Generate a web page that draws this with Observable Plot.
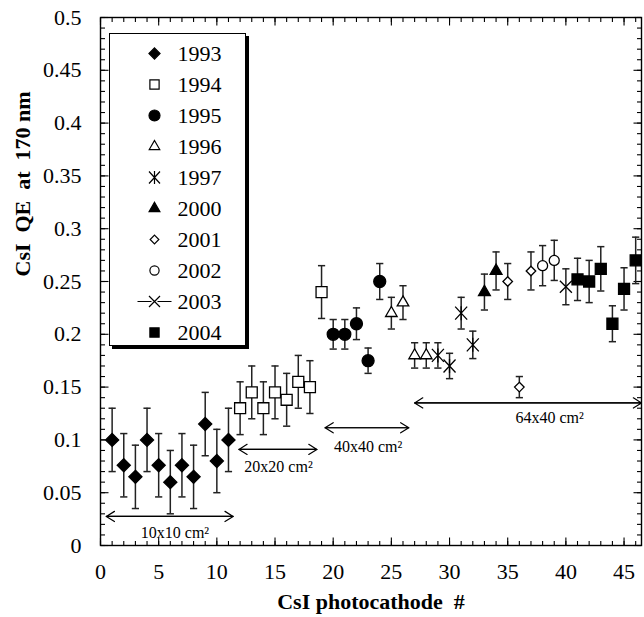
<!DOCTYPE html>
<html>
<head>
<meta charset="utf-8">
<script src="https://cdn.jsdelivr.net/npm/d3@7"></script>
<script src="https://cdn.jsdelivr.net/npm/@observablehq/plot@0.6"></script>
<style>
  body { margin: 0; background: #fff; }
  #wrap { position: relative; width: 644px; height: 617px; font-family: "Liberation Serif", "Times New Roman", serif; }
  #legend { position: absolute; left: 109px; top: 33px; width: 135px; height: 311px; border: 1.3px solid #000; box-shadow: 3px 3px 0 #000; background: #fff; }
  svg { font-family: "Liberation Serif", "Times New Roman", serif; }
</style>
</head>
<body>
<div id="wrap"><div id="chart"></div><div id="legend"></div></div>
<script>
// ---------------- data ----------------
const years = ["1993","1994","1995","1996","1997","2000","2001","2002","2003","2004"];
const cathodeIds = [1,2,3,4,5,6,7,8,9,10,11,12,13,14,15,16,17,18,19,20,21,22,23,24,25,26,27,28,29,30,31,32,33,34,35,36,37,38,39,40,41,42,43,44,45,46];
const cathodeYear = [
  "1993","1993","1993","1993","1993","1993","1993","1993","1993","1993","1993",
  "1994","1994","1994","1994","1994","1994","1994","1994",
  "1995","1995","1995","1995","1995",
  "1996","1996","1996","1996",
  "1997","1997","1997","1997",
  "2000","2000",
  "2001","2001","2001",
  "2002","2002",
  "2003",
  "2004","2004","2004","2004","2004","2004"];
const qeValues = [
  0.100,0.076,0.065,0.100,0.076,0.060,0.076,0.065,0.115,0.080,0.100,
  0.130,0.145,0.130,0.145,0.138,0.155,0.150,0.240,
  0.200,0.200,0.210,0.175,0.250,
  0.220,0.230,0.180,0.180,
  0.180,0.170,0.220,0.190,
  0.240,0.260,
  0.250,0.150,0.260,
  0.265,0.270,
  0.245,
  0.252,0.250,0.262,0.210,0.243,0.270];
const qeErrors = [
  0.030,0.030,0.030,0.030,0.030,0.030,0.030,0.030,0.030,0.030,0.030,
  0.025,0.025,0.025,0.025,0.025,0.025,0.025,0.025,
  0.014,0.014,0.015,0.012,0.017,
  0.015,0.016,0.012,0.012,
  0.012,0.012,0.015,0.013,
  0.017,0.018,
  0.017,0.010,0.018,
  0.019,0.019,
  0.017,
  0.020,0.020,0.021,0.017,0.020,0.022];

const xTicks = [0,5,10,15,20,25,30,35,40,45];
const yTicks = [0,0.05,0.1,0.15,0.2,0.25,0.3,0.35,0.4,0.45,0.5];

const sizeLabels = ["10x10 cm²","20x20 cm²","40x40 cm²","64x40 cm²"];
const arrowFrom  = [0.5, 11.9, 19.3, 27.0];
const arrowTo    = [11.4, 18.6, 26.5, 46.5];
const arrowY     = [0.0275, 0.0910, 0.1115, 0.1350];
const labelX     = [6.4, 15.3, 23.0, 38.6];
const labelY     = [0.012, 0.0745, 0.093, 0.121];

const xTitle = "CsI photocathode  #";
const yTitle = "CsI  QE  at  170 nm";

// ---------------- styles ----------------
const asteriskSym = {draw(c) { c.moveTo(0,-7); c.lineTo(0,7); c.moveTo(-6,-6.5); c.lineTo(6,6.5); c.moveTo(-6,6.5); c.lineTo(6,-6.5); }};
const timesSym = {draw(c) { c.moveTo(-6,-6); c.lineTo(6,6); c.moveTo(-6,6); c.lineTo(6,-6); }};
const timesLegendSym = {draw(c) { c.moveTo(-5.5,-5.5); c.lineTo(5.5,5.5); c.moveTo(-5.5,5.5); c.lineTo(5.5,-5.5); c.moveTo(-17,0); c.lineTo(-3,0); c.moveTo(3,0); c.lineTo(17,0); }};
const capSym = {draw(c) { c.moveTo(-3.6,0); c.lineTo(3.6,0); }};
const tickSym = (dx, dy) => ({draw(c) { c.moveTo(0,0); c.lineTo(dx,dy); }});

const seriesStyle = {
  "1993": {symbol: "diamond2", fill: "black", r: 5.9, lr: 5.0},
  "1994": {symbol: "square",   fill: "white", r: 6.2, lr: 5.2},
  "1995": {symbol: "circle",   fill: "black", r: 6.0, lr: 5.5},
  "1996": {symbol: "triangle", fill: "white", r: 4.3, lr: 3.9},
  "1997": {symbol: asteriskSym, fill: "none", r: 5,  lr: 5, legendSymbol: {draw(c){ c.moveTo(0,-6.5); c.lineTo(0,6.5); c.moveTo(-5.5,-6); c.lineTo(5.5,6); c.moveTo(-5.5,6); c.lineTo(5.5,-6);} }},
  "2000": {symbol: "triangle", fill: "black", r: 4.4, lr: 4.0},
  "2001": {symbol: "diamond2", fill: "white", r: 4.3, lr: 3.9},
  "2002": {symbol: "circle",   fill: "white", r: 5.0, lr: 4.6},
  "2003": {symbol: timesSym,   fill: "none", r: 5,   lr: 5, legendSymbol: timesLegendSym},
  "2004": {symbol: "square",   fill: "black", r: 6.2, lr: 5.2}
};

const rows = cathodeIds.map((id, i) => ({id, qe: qeValues[i], err: qeErrors[i], year: cathodeYear[i]}));

// ---------------- main chart ----------------
const xMinor = d3.range(0, 47);
const yMinor = d3.range(0, 51).map(i => i / 100);

const marks = [
  // inward ticks on all four sides
  Plot.dot(xMinor, {x: d => d, frameAnchor: "bottom", symbol: tickSym(0,-4.5), stroke: "black", strokeWidth: 1.1, fill: "none"}),
  Plot.dot(xTicks, {x: d => d, frameAnchor: "bottom", symbol: tickSym(0,-8), stroke: "black", strokeWidth: 1.1, fill: "none"}),
  Plot.dot(xMinor, {x: d => d, frameAnchor: "top", symbol: tickSym(0,4.5), stroke: "black", strokeWidth: 1.1, fill: "none"}),
  Plot.dot(xTicks, {x: d => d, frameAnchor: "top", symbol: tickSym(0,8), stroke: "black", strokeWidth: 1.1, fill: "none"}),
  Plot.dot(yMinor, {y: d => d, frameAnchor: "left", symbol: tickSym(4.5,0), stroke: "black", strokeWidth: 1.1, fill: "none"}),
  Plot.dot(yTicks, {y: d => d, frameAnchor: "left", symbol: tickSym(8,0), stroke: "black", strokeWidth: 1.1, fill: "none"}),
  Plot.dot(yMinor, {y: d => d, frameAnchor: "right", symbol: tickSym(-4.5,0), stroke: "black", strokeWidth: 1.1, fill: "none"}),
  Plot.dot(yTicks, {y: d => d, frameAnchor: "right", symbol: tickSym(-8,0), stroke: "black", strokeWidth: 1.1, fill: "none"}),
  Plot.frame({stroke: "black", strokeWidth: 1.4}),

  // size annotations (double-headed arrows)
  Plot.arrow(sizeLabels, {x1: (d,i) => arrowFrom[i], x2: (d,i) => arrowTo[i], y1: (d,i) => arrowY[i], y2: (d,i) => arrowY[i], stroke: "black", strokeWidth: 1.2, headLength: 12, headAngle: 64}),
  Plot.arrow(sizeLabels, {x1: (d,i) => arrowTo[i], x2: (d,i) => arrowFrom[i], y1: (d,i) => arrowY[i], y2: (d,i) => arrowY[i], stroke: "black", strokeWidth: 1.2, headLength: 12, headAngle: 64}),
  Plot.text(sizeLabels, {x: (d,i) => labelX[i], y: (d,i) => labelY[i], text: d => d, fontSize: 16, fill: "black"}),

  // error bars
  Plot.ruleX(rows, {x: "id", y1: d => d.qe - d.err, y2: d => d.qe + d.err, stroke: "#222", strokeWidth: 1.5}),
  Plot.dot(rows, {x: "id", y: d => d.qe - d.err, symbol: capSym, stroke: "#222", strokeWidth: 1.5, fill: "none"}),
  Plot.dot(rows, {x: "id", y: d => d.qe + d.err, symbol: capSym, stroke: "#222", strokeWidth: 1.5, fill: "none"}),

  // markers per year
  ...years.map(yr => {
    const s = seriesStyle[yr];
    return Plot.dot(rows.filter(d => d.year === yr), {x: "id", y: "qe", symbol: s.symbol, r: s.r, fill: s.fill, stroke: "black", strokeWidth: 1.3});
  }),

  // axis titles
  Plot.text([xTitle], {frameAnchor: "bottom", dy: 63, fontSize: 22, fontWeight: "bold", fill: "black"}),
  Plot.text([yTitle], {frameAnchor: "left", dx: -78, dy: -5, rotate: -90, fontSize: 22, fontWeight: "bold", fill: "black"})
];

const chart = Plot.plot({
  width: 644,
  height: 617,
  marginLeft: 100,
  marginRight: 3,
  marginTop: 17,
  marginBottom: 72,
  style: {fontSize: "22px", fontFamily: "Liberation Serif, Times New Roman, serif", color: "black", background: "white"},
  x: {domain: [0, 46.5], ticks: xTicks, tickSize: 0, tickPadding: 18, tickFormat: d => String(d), label: null},
  y: {domain: [0, 0.5], ticks: yTicks, tickSize: 0, tickPadding: 19, tickFormat: d => String(d), label: null},
  marks
});
document.getElementById("chart").appendChild(chart);

// ---------------- legend (inside the plot area) ----------------
const legend = Plot.plot({
  width: 135,
  height: 311,
  marginTop: 18,
  marginBottom: 13,
  marginLeft: 0,
  marginRight: 0,
  style: {fontFamily: "Liberation Serif, Times New Roman, serif", background: "white"},
  y: {type: "point", domain: years, padding: 0, axis: null},
  marks: [
    ...years.map(yr => {
      const s = seriesStyle[yr];
      return Plot.dot([yr], {y: d => d, frameAnchor: "left", dx: 44, symbol: s.legendSymbol || s.symbol, r: s.lr, fill: s.fill, stroke: "black", strokeWidth: 1.2});
    }),
    Plot.text(years, {y: d => d, text: d => d, frameAnchor: "left", dx: 67, textAnchor: "start", fontSize: 22, fill: "black"})
  ]
});
document.getElementById("legend").appendChild(legend);
</script>
</body>
</html>
